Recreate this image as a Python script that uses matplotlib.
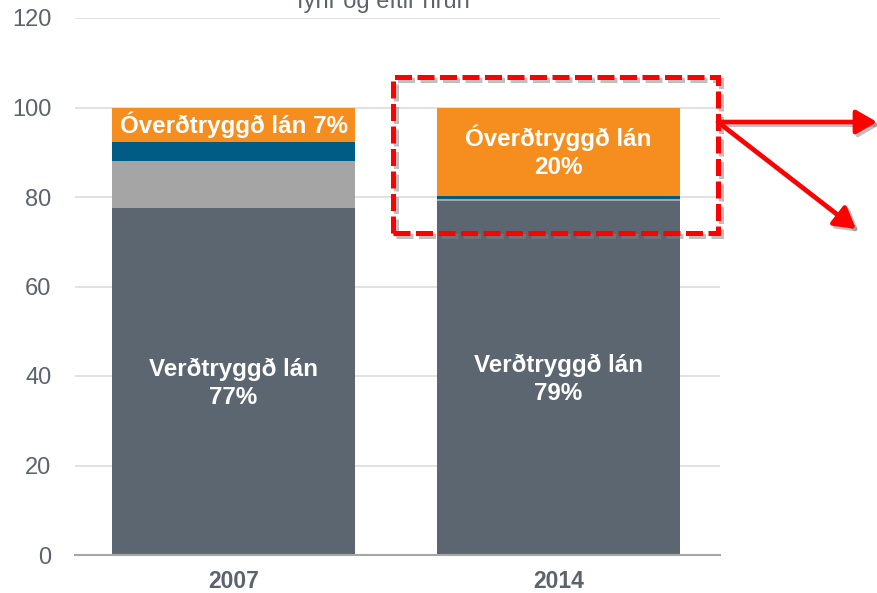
import matplotlib
matplotlib.use('Agg')
import matplotlib.pyplot as plt
from matplotlib.patches import Rectangle, FancyArrowPatch
import matplotlib.patheffects as pe

plt.rcParams['font.family'] = ['Liberation Sans', 'DejaVu Sans']

years = ['2007', '2014']
verdtryggd = [77.5, 79.2]
annad = [10.5, 0.3]
blatt = [4.3, 0.8]
overdtryggd = [7.7, 19.7]
labels_verd = ['Verðtryggð lán\n77%', 'Verðtryggð lán\n79%']
labels_over = ['Óverðtryggð lán 7%', 'Óverðtryggð lán\n20%']
y_ticks = [0, 20, 40, 60, 80, 100, 120]

colors = ('#5C6670', '#A5A5A5', '#005C84', '#F58D1F')
text_grey = '#5B636D'

fig = plt.figure(figsize=(8.78, 5.93), dpi=100)
ax = fig.add_axes([75 / 878, 38 / 593, 645 / 878, 537 / 593])

x = range(len(years))
bottom = [0, 0]
for vals, c in zip((verdtryggd, annad, blatt, overdtryggd), colors):
    ax.bar(x, vals, width=0.748, bottom=bottom, color=c, zorder=2)
    bottom = [b + v for b, v in zip(bottom, vals)]

for i in x:
    ax.text(i, verdtryggd[i] / 2 - 0.4, labels_verd[i], ha='center', va='center',
            color='white', fontsize=17.4, fontweight='bold', linespacing=1.3, zorder=3)
    top = verdtryggd[i] + annad[i] + blatt[i]
    ax.text(i, top + overdtryggd[i] / 2, labels_over[i],
            ha='center', va='center', color='white', fontsize=17.4,
            fontweight='bold', linespacing=1.3, zorder=3)

ax.set_xlim(-0.488, 1.497)
ax.set_ylim(0, 120)
ax.set_yticks(y_ticks)
ax.grid(axis='y', color='#DDDDDD', linewidth=1.2, zorder=0)
ax.set_xticks(list(x))
ax.set_xticklabels(years, fontsize=16.5, fontweight='bold', color=text_grey)
ax.tick_params(axis='y', labelsize=17, colors=text_grey, length=0, pad=17)
ax.tick_params(axis='x', length=0, pad=11)
for s in ('top', 'right', 'left'):
    ax.spines[s].set_visible(False)
ax.spines['bottom'].set_color('#A6A6A6')
ax.spines['bottom'].set_linewidth(1.5)

fig.text(383 / 878, 1 - 8 / 593, 'fyrir og eftir hrun', ha='center', va='baseline',
         fontsize=17, color=text_grey)

# red dashed highlight box and arrows (figure pixel coords)
shadow = [pe.SimpleLineShadow(offset=(2, -2), shadow_color='gray', alpha=0.5), pe.Normal()]
box = Rectangle((393 / 878, 1 - 233 / 593), (718 - 393) / 878, (233 - 77) / 593,
                transform=fig.transFigure, fill=False, edgecolor='#FF0000',
                linewidth=3.6, linestyle=(0, (3.4, 1.1)), path_effects=shadow, zorder=5)
fig.add_artist(box)
for end in ((877, 122), (856, 229)):
    arr = FancyArrowPatch((718 / 878, 1 - 122 / 593), (end[0] / 878, 1 - end[1] / 593),
                          transform=fig.transFigure, arrowstyle='-|>,head_length=0.45,head_width=0.26',
                          mutation_scale=28, shrinkA=0, shrinkB=0,
                          color='#FF0000', linewidth=3.3, path_effects=shadow, zorder=5)
    fig.add_artist(arr)

fig.savefig('out.png', dpi=100)
